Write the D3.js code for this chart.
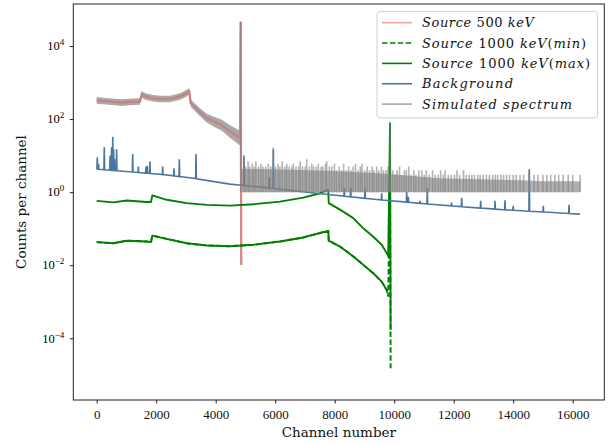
<!DOCTYPE html>
<html><head><meta charset="utf-8">
<script src="https://cdn.jsdelivr.net/npm/d3@7"></script>
<style>body{margin:0;background:#fff}</style>
</head><body><svg id="c" width="612" height="444"></svg>
<script>
// ---------------- DATA ----------------
const xTicks = [0, 2000, 4000, 6000, 8000, 10000, 12000, 14000, 16000];
const yTickExp = [-4, -2, 0, 2, 4];

// Source 500 keV (counts per channel)
const src500Ch  = [0, 300, 600, 840, 1100, 1455, 1513, 1630, 1900, 2128, 2464, 2800, 3025, 3113, 3160, 3472, 3697, 3900, 4034, 4150, 4257, 4481, 4817, 4840, 4860];
const src500Val = [324, 309, 295, 282, 295, 302, 479, 417, 372, 355, 355, 417, 513, 575, 275, 155, 107, 89, 78, 72, 63, 46, 30, 46000, 0.0102];

// Source 1000 keV (max) - solid
const src1000Ch     = [0, 560, 1008, 1680, 1825, 1870, 2353, 3025, 3697, 4481, 5264, 6161, 6945, 7506, 7785, 7800, 8178, 8625, 8961, 9297, 9580, 9748, 9800, 9860, 9880];
const src1000MaxVal = [0.575, 0.525, 0.589, 0.537, 0.537, 0.813, 0.617, 0.501, 0.447, 0.427, 0.468, 0.55, 0.708, 0.933, 1.148, 0.501, 0.331, 0.195, 0.102, 0.0603, 0.0363, 0.0214, 0.0178, 77.6, 0.00017];
// Source 1000 keV (min) - dashed
const src1000MinVal = [0.0427, 0.0398, 0.0468, 0.0447, 0.0427, 0.0646, 0.0525, 0.0398, 0.0347, 0.0331, 0.0363, 0.0447, 0.0575, 0.0759, 0.0871, 0.0468, 0.0324, 0.0174, 0.0102, 0.00603, 0.00355, 0.00209, 0.00138, 5.6, 0.0000151];

// Background: smooth continuum + peaks
const bgBaseCh  = [0, 2128, 3250, 4480, 5600, 7842, 9400, 11430, 13667, 16245];
const bgBaseVal = [4.27, 3.09, 2.40, 1.66, 1.35, 0.85, 0.63, 0.45, 0.33, 0.25];
const bgPeakCh  = [20, 60, 255, 450, 500, 540, 570, 600, 670, 1210, 1400, 1657, 1700, 1790, 2218, 2600, 2778, 3338, 4950, 5800, 5937, 8323, 8538, 9018, 9580, 10420, 10475, 10870, 11113, 11930, 12270, 12907, 13390, 13725, 14000, 14540, 15012, 15876];
const bgPeakVal = [9, 6, 17, 10, 17, 33, 15, 8, 15, 11, 5, 5, 5.3, 7, 5, 4.5, 8, 11, 10, 2.5, 15, 1.3, 1.3, 1.3, 0.93, 1.0, 0.75, 0.58, 1.3, 0.52, 0.7, 0.58, 0.58, 0.6, 0.42, 4.2, 0.42, 0.45];

// Simulated spectrum: noisy band around the 500 keV source (ch 0-4817)
const simACh    = [0, 300, 600, 840, 1100, 1455, 1513, 1630, 1900, 2128, 2464, 2800, 3025, 3113, 3160, 3472, 3697, 3900, 4034, 4150, 4257, 4481, 4817];
const simAUpper = [400, 380, 362, 348, 362, 372, 590, 512, 458, 437, 437, 512, 630, 705, 345, 198, 140, 120, 108, 100, 90, 68, 48];
const simALower = [262, 250, 240, 228, 240, 245, 390, 340, 302, 288, 288, 340, 418, 468, 218, 120, 80, 65, 56, 51, 44, 31, 19];
// Simulated spectrum: dense band of low counts above 1 (ch 4860-16250)
const simBandCh  = [4860, 5500, 6500, 7500, 8500, 9500, 10500, 11500, 12500, 13500, 14300, 15000, 16250];
const simBandTop = [4.3, 4.3, 4.1, 3.9, 3.6, 3.3, 2.8, 2.4, 2.3, 2.2, 2.1, 2, 2];
// Simulated spectrum: individual spikes
const simSpikeCh  = [4840, 4950, 5010, 5090, 5140, 5230, 5290, 5350, 5440, 5520, 5590, 5680, 5770, 5850, 5937, 6010, 6100, 6160, 6240, 6330, 6390, 6470, 6560, 6610, 6700, 6790, 6840, 6920, 7010, 7060, 7150, 7230, 7290, 7380, 7450, 7540, 7600, 7690, 7730, 7820, 7900, 7990, 8060, 8150, 8230, 8300, 8390, 8470, 8550, 8620, 8700, 8790, 8860, 8920, 9010, 9090, 9170, 9260, 9320, 9410, 9480, 9570, 9640, 9720, 9790, 9860, 9950, 10030, 10100, 10180, 10260, 10340, 10410, 10490, 10570, 10660, 10730, 10830, 10930, 11010, 11080, 11180, 11290, 11380, 11480, 11560, 11650, 11715, 11820, 11920, 12030, 12110, 12200, 12330, 12420, 12520, 12610, 12700, 12810, 12890, 12990, 13100, 13200, 13310, 13400, 13480, 13590, 13680, 13780, 13880, 14000, 14100, 14230, 14350, 14540, 14700, 14830, 15000, 15130, 15260, 15400, 15530, 15680, 15850, 16000, 16250];
const simSpikeVal = [46000, 9, 5, 7, 5, 6, 5, 7, 5, 6, 5, 5, 6, 5, 17, 5, 6, 5, 7, 5, 6, 5, 5, 6, 5, 5, 7, 5, 5, 8, 5, 6, 5, 5, 6, 5, 5, 6, 7, 5, 5, 6, 4, 5, 4, 6, 4, 5, 4, 5, 6, 4, 5, 6, 4, 5, 4, 5, 4, 5, 4, 5, 4, 4, 5, 78, 4, 3, 4, 5, 3, 4, 4, 5, 3, 4, 3, 4, 4, 3, 4, 3, 4, 3, 3, 4, 3, 4, 3, 3, 3, 4, 3, 4, 3, 3, 3, 3, 3, 3, 3, 3, 3, 3, 3, 3, 3, 3, 3, 3, 3, 3, 3, 3, 4, 3, 3, 3, 3, 3, 3, 3, 3, 3, 3, 3];

// ---------------- DRAWING ----------------
const svg = d3.select('#c');
const M = {l: 73.3, r: 604.3, t: 4, b: 400};
const x = d3.scaleLinear().domain([-786, 17062]).range([M.l, M.r]);
const y = d3.scaleLog().domain([Math.pow(10, -5.69), Math.pow(10, 5.15)]).range([M.b, M.t]);

svg.append('defs').append('clipPath').attr('id', 'clip')
  .append('rect').attr('x', M.l).attr('y', M.t).attr('width', M.r - M.l).attr('height', M.b - M.t);
const g = svg.append('g').attr('clip-path', 'url(#clip)');

const line = d3.line().x(d => x(d[0])).y(d => y(d[1]));
const zip = (a, b) => a.map((v, i) => [v, b[i]]);

const COL_RED = '#f08080', COL_GREEN = '#008000', COL_BLUE = '#4c76a2', COL_GRAY = '#808080';

// gray band around the 500 keV source (under the red curve)
g.append('path')
  .datum(simACh.map((c, i) => ({c, lo: simALower[i], hi: simAUpper[i]})))
  .attr('d', d3.area().x(d => x(d.c)).y0(d => y(d.lo)).y1(d => y(d.hi)))
  .attr('fill', '#8c8c8c').attr('fill-opacity', 0.75);

// Source 500 keV
g.append('path').datum(zip(src500Ch, src500Val)).attr('d', line)
  .attr('fill', 'none').attr('stroke', '#c98080').attr('stroke-width', 2.2);
g.append('path').datum(zip(src500Ch.slice(-3), src500Val.slice(-3))).attr('d', line)
  .attr('fill', 'none').attr('stroke', COL_RED).attr('stroke-opacity', 0.75).attr('stroke-width', 1.6);

// Source 1000 keV (min): dashed (the noisy curve part renders visually solid)
const minPts = zip(src1000Ch, src1000MinVal);
g.append('path').datum(minPts).attr('d', line)
  .attr('fill', 'none').attr('stroke', COL_GREEN).attr('stroke-width', 1.9).attr('stroke-dasharray', '5.5,2.4');
g.append('path').datum(minPts.filter(d => d[0] <= 9748)).attr('d', line)
  .attr('fill', 'none').attr('stroke', COL_GREEN).attr('stroke-width', 1.9).attr('stroke-linejoin', 'round');

// Source 1000 keV (max)
g.append('path').datum(zip(src1000Ch, src1000MaxVal)).attr('d', line)
  .attr('fill', 'none').attr('stroke', COL_GREEN).attr('stroke-width', 1.9).attr('stroke-linejoin', 'round');

// Background: continuum + peaks (peak feet placed on the continuum)
const logBase = d3.scaleLinear().domain(bgBaseCh).range(bgBaseVal.map(Math.log10)).clamp(true);
const baseAt = c => Math.pow(10, logBase(c));
let bgPts = zip(bgBaseCh, bgBaseVal);
bgPeakCh.forEach((c, i) => {
  bgPts.push([c - 12, baseAt(c - 12)], [c, bgPeakVal[i]], [c + 12, baseAt(c + 12)]);
});
bgPts = bgPts.filter(d => d[0] >= 0).sort((a, b) => a[0] - b[0]);
g.append('path').datum(bgPts).attr('d', line)
  .attr('fill', 'none').attr('stroke', COL_BLUE).attr('stroke-width', 1.6);

// Simulated spectrum: dense low-count band + spikes
g.append('path')
  .datum(zip(simBandCh, simBandTop))
  .attr('d', d3.area().x(d => x(d[0])).y0(y(1)).y1(d => y(d[1])))
  .attr('fill', COL_GRAY).attr('fill-opacity', 0.62);
g.append('g').selectAll('line').data(zip(simSpikeCh, simSpikeVal)).join('line')
  .attr('x1', d => x(d[0])).attr('x2', d => x(d[0]))
  .attr('y1', y(1)).attr('y2', d => y(d[1]))
  .attr('stroke', COL_GRAY).attr('stroke-opacity', 0.6).attr('stroke-width', 1.6);

// ---------------- AXES ----------------
const xAxis = svg.append('g').attr('transform', `translate(0,${M.b})`)
  .call(d3.axisBottom(x).tickValues(xTicks).tickSize(3.5).tickPadding(6.5).tickFormat(d3.format('d')));
xAxis.select('.domain').remove();
xAxis.selectAll('text').style('font-family', '"Liberation Serif", serif').style('font-size', '13px').style('fill', '#111');
xAxis.selectAll('line').attr('stroke', '#222');

const yAxis = svg.append('g').attr('transform', `translate(${M.l},0)`)
  .call(d3.axisLeft(y).tickValues(yTickExp.map(e => Math.pow(10, e))).tickSize(3.5).tickPadding(5.5));
yAxis.select('.domain').remove();
yAxis.selectAll('line').attr('stroke', '#222');
yAxis.selectAll('text').each(function(d) {
  const e = Math.round(Math.log10(d));
  const t = d3.select(this).text(null).attr('dy', '0.3em')
    .style('font-family', '"Liberation Serif", serif').style('font-size', '12.5px').style('fill', '#000');
  t.append('tspan').style('fill', '#000').text('10');
  t.append('tspan').attr('dy', -5).style('font-size', '9px').style('fill', '#000').text(e < 0 ? '\u2212' + (-e) : String(e));
});

// frame
svg.append('rect').attr('x', M.l).attr('y', M.t).attr('width', M.r - M.l).attr('height', M.b - M.t)
  .attr('fill', 'none').attr('stroke', '#222').attr('stroke-width', 1);

// axis labels
svg.append('text').attr('x', (M.l + M.r) / 2).attr('y', 437).attr('text-anchor', 'middle')
  .style('font-family', '"DejaVu Serif", serif').style('font-size', '13.5px').style('fill', '#111')
  .text('Channel number');
svg.append('text').attr('transform', `translate(25.5,${(M.t + M.b) / 2}) rotate(-90)`).attr('text-anchor', 'middle')
  .style('font-family', '"DejaVu Serif", serif').style('font-size', '13.5px').style('fill', '#111')
  .text('Counts per channel');

// ---------------- LEGEND ----------------
const legend = [
  {parts: [['Source', 1], [' 500 ', 0], ['keV', 1]], w: 112, stroke: COL_RED, op: 0.75},
  {parts: [['Source', 1], [' 1000 ', 0], ['keV', 1], ['(', 0], ['min', 1], [')', 0]], w: 164, stroke: COL_GREEN, dash: '5.5,2.4'},
  {parts: [['Source', 1], [' 1000 ', 0], ['keV', 1], ['(', 0], ['max', 1], [')', 0]], w: 168, stroke: COL_GREEN},
  {parts: [['Background', 1]], w: 91, stroke: COL_BLUE},
  {parts: [['Simulated spectrum', 1]], w: 150, stroke: COL_GRAY, op: 0.7}
];
const lg = svg.append('g');
lg.append('rect').attr('x', 377).attr('y', 11.5).attr('width', 220.5).attr('height', 106.5).attr('rx', 3)
  .attr('fill', '#fff').attr('fill-opacity', 0.85).attr('stroke', '#d0d0d0').attr('stroke-width', 1);
legend.forEach((it, i) => {
  const yy = 22.7 + i * 20.35;
  lg.append('line').attr('x1', 382).attr('x2', 412).attr('y1', yy).attr('y2', yy)
    .attr('stroke', it.stroke).attr('stroke-width', 1.6)
    .attr('stroke-opacity', it.op || 1).attr('stroke-dasharray', it.dash || null);
  const t = lg.append('text').attr('x', 422).attr('y', yy + 4.6)
    .style('font-family', '"DejaVu Serif", serif').style('font-size', '13px').style('fill', '#111')
    .attr('textLength', it.w).attr('lengthAdjust', 'spacing');
  it.parts.forEach(p => t.append('tspan').style('font-style', p[1] ? 'italic' : 'normal').text(p[0]));
});
</script>
</body></html>
